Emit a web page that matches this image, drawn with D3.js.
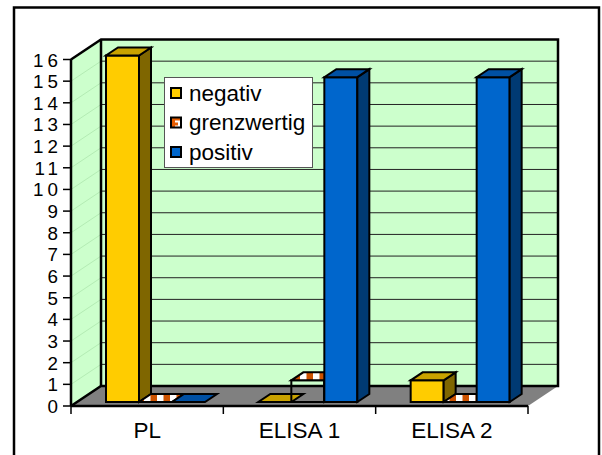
<!DOCTYPE html>
<html>
<head>
<meta charset="utf-8">
<script src="https://cdn.jsdelivr.net/npm/d3@7"></script>
<style>
  body { margin: 0; background: #fff; }
  text { font-family: "Liberation Sans", Arial, sans-serif; fill: #000; }
</style>
</head>
<body>
<svg id="chart" width="602" height="455"></svg>
<script>
// Data
const categories = ["PL", "ELISA 1", "ELISA 2"];
const seriesNames = ["negativ", "grenzwertig", "positiv"];
const negativ = [16, 0, 1];
const grenzwertig = [0, 1, 0];
const positiv = [0, 15, 15];
const yTickLabels = d3.range(0, 17);

const seriesValues = { negativ, grenzwertig, positiv };

const svg = d3.select("#chart");

// Plot geometry (front plane) and 3D depth offset
const plot = { left: 71, right: 528, top: 59.5, bottom: 406 };
const DX = 30, DY = -20;
const Z0 = 0.2, Z1 = 0.6; // bar front/back depth fractions

const x = d3.scaleBand().domain(categories).range([plot.left, plot.right]);
const y = d3.scaleLinear().domain([0, 16]).range([plot.bottom, plot.top]);
const xs = d3.scaleBand().domain(seriesNames).range([29, 128]);

const P = (px, v, z) => [px + z * DX, y(v) + z * DY];
const poly = pts => "M" + pts.map(p => p.join(",")).join("L") + "Z";

// Patterns
const defs = svg.append("defs");
const stripes = defs.append("pattern")
  .attr("id", "stripes").attr("patternUnits", "userSpaceOnUse")
  .attr("width", 13).attr("height", 13).attr("x", 1);
stripes.append("rect").attr("width", 13).attr("height", 13).attr("fill", "#fff");
stripes.append("rect").attr("x", 6.5).attr("width", 6.5).attr("height", 13).attr("fill", "#cc5200");

const checker = defs.append("pattern")
  .attr("id", "checker").attr("patternUnits", "userSpaceOnUse")
  .attr("width", 10).attr("height", 10).attr("x", 171).attr("y", 117.5);
checker.append("rect").attr("width", 10).attr("height", 10).attr("fill", "#fff");
checker.append("rect").attr("width", 4).attr("height", 10).attr("fill", "#e65c00");
checker.append("rect").attr("width", 10).attr("height", 3).attr("fill", "#e65c00");
checker.append("rect").attr("x", 4).attr("y", 5).attr("width", 3).attr("height", 3).attr("fill", "#e65c00");

const styles = {
  negativ:     { front: "#ffcc00", top: "#c9a200", side: "#7f6600", swatch: "#ffcc00" },
  grenzwertig: { front: "none",    top: "url(#stripes)", side: "url(#stripes)", swatch: "url(#checker)" },
  positiv:     { front: "#0066cc", top: "#0050a3", side: "#003a73", swatch: "#0066cc" }
};

// Outer frame
svg.append("path")
  .attr("d", "M14,455 L14,7.5 L599,7.5 L599,455")
  .attr("fill", "none").attr("stroke", "#000").attr("stroke-width", 2.5);
svg.append("line").attr("x1", 599).attr("x2", 599).attr("y1", 7).attr("y2", 455)
  .attr("stroke", "#000").attr("stroke-width", 1.5);

// Walls and floor
const back = [P(plot.left, 0, 1), P(plot.right, 0, 1), P(plot.right, 16, 1), P(plot.left, 16, 1)];
svg.append("path").attr("d", poly(back)).attr("fill", "#ccffcc");
const side = [P(plot.left, 0, 0), P(plot.left, 0, 1), P(plot.left, 16, 1), P(plot.left, 16, 0)];
svg.append("path").attr("d", poly(side)).attr("fill", "#ccffcc");
const floor = [P(plot.left, 0, 0), P(plot.right, 0, 0), P(plot.right, 0, 1), P(plot.left, 0, 1)];
svg.append("path").attr("d", poly(floor)).attr("fill", "#808080");

// Gridlines: faint on side wall, dark on back wall
svg.append("g").selectAll("line").data(d3.range(1, 16)).join("line")
  .attr("x1", plot.left).attr("y1", d => y(d))
  .attr("x2", plot.left + DX).attr("y2", d => y(d) + DY)
  .attr("stroke", "#b4ecb4").attr("stroke-width", 1);
svg.append("g").selectAll("line").data(d3.range(1, 16)).join("line")
  .attr("x1", P(plot.left, 0, 1)[0]).attr("x2", P(plot.right, 0, 1)[0])
  .attr("y1", d => P(0, d, 1)[1]).attr("y2", d => P(0, d, 1)[1])
  .attr("stroke", "#222").attr("stroke-width", 1);

// Wall outlines
svg.append("path")
  .attr("d", "M" + [P(plot.left, 0, 0), P(plot.left, 0, 1), P(plot.right, 0, 1), P(plot.right, 16, 1),
                    P(plot.left, 16, 1), P(plot.left, 16, 0)].map(p => p.join(",")).join("L"))
  .attr("fill", "none").attr("stroke", "#000").attr("stroke-width", 2.5).attr("stroke-linejoin", "miter");
svg.append("line")
  .attr("x1", P(plot.left, 0, 1)[0]).attr("x2", P(plot.left, 0, 1)[0])
  .attr("y1", P(0, 0, 1)[1]).attr("y2", P(0, 16, 1)[1])
  .attr("stroke", "#000").attr("stroke-width", 2.5);

// Bars
const gBars = svg.append("g").attr("stroke", "#000").attr("stroke-width", 2).attr("stroke-linejoin", "miter");
categories.forEach((cat, ci) => {
  seriesNames.forEach(s => {
    const v = seriesValues[s][ci];
    const st = styles[s];
    const X0 = x(cat) + xs(s), X1 = X0 + xs.bandwidth();
    const g = gBars.append("g");
    if (v > 0) {
      g.append("path").attr("d", poly([P(X0, 0, Z0), P(X1, 0, Z0), P(X1, v, Z0), P(X0, v, Z0)]))
        .attr("fill", st.front);
      g.append("path").attr("d", poly([P(X1, 0, Z0), P(X1, 0, Z1), P(X1, v, Z1), P(X1, v, Z0)]))
        .attr("fill", st.side);
    }
    g.append("path").attr("d", poly([P(X0, v, Z0), P(X1, v, Z0), P(X1, v, Z1), P(X0, v, Z1)]))
      .attr("fill", st.top);
  });
});

// Y axis
const yAxis = svg.append("g");
yAxis.append("line").attr("x1", plot.left).attr("x2", plot.left)
  .attr("y1", y(0)).attr("y2", y(16)).attr("stroke", "#000").attr("stroke-width", 2.5);
yAxis.selectAll("line.tick").data(yTickLabels).join("line").attr("class", "tick")
  .attr("x1", plot.left - 8).attr("x2", plot.left)
  .attr("y1", d => y(d)).attr("y2", d => y(d))
  .attr("stroke", "#000").attr("stroke-width", 1.5);
yAxis.selectAll("text").data(yTickLabels).join("text")
  .attr("x", d => d >= 10 ? 62 : 58).attr("y", d => y(d) + 7)
  .attr("text-anchor", "end").attr("font-size", 18.8)
  .attr("letter-spacing", d => d >= 10 ? 4 : 0)
  .text(d => d);

// X axis
const xAxis = svg.append("g");
xAxis.append("line").attr("x1", plot.left).attr("x2", plot.right)
  .attr("y1", plot.bottom).attr("y2", plot.bottom).attr("stroke", "#000").attr("stroke-width", 2.5);
const xTickPos = categories.map(c => x(c)).concat([plot.right]);
xAxis.selectAll("line.tick").data(xTickPos).join("line").attr("class", "tick")
  .attr("x1", d => d).attr("x2", d => d)
  .attr("y1", plot.bottom).attr("y2", plot.bottom + 8)
  .attr("stroke", "#000").attr("stroke-width", 1.5);
xAxis.selectAll("text").data(categories).join("text")
  .attr("x", d => x(d) + x.bandwidth() / 2).attr("y", 438)
  .attr("text-anchor", "middle").attr("font-size", 22.5)
  .text(d => d);

// Legend
const legend = svg.append("g");
legend.append("rect").attr("x", 164.5).attr("y", 77.5).attr("width", 148).attr("height", 90)
  .attr("fill", "#fff").attr("stroke", "#555").attr("stroke-width", 1);
const rowY = [93, 122.5, 152];
seriesNames.forEach((s, i) => {
  legend.append("rect").attr("x", 171).attr("y", rowY[i] - 5).attr("width", 10).attr("height", 10)
    .attr("fill", styles[s].swatch).attr("stroke", "#000").attr("stroke-width", 2);
  legend.append("text").attr("x", 189).attr("y", rowY[i] + 7.5)
    .attr("font-size", 22.5).text(s);
});
</script>
</body>
</html>
